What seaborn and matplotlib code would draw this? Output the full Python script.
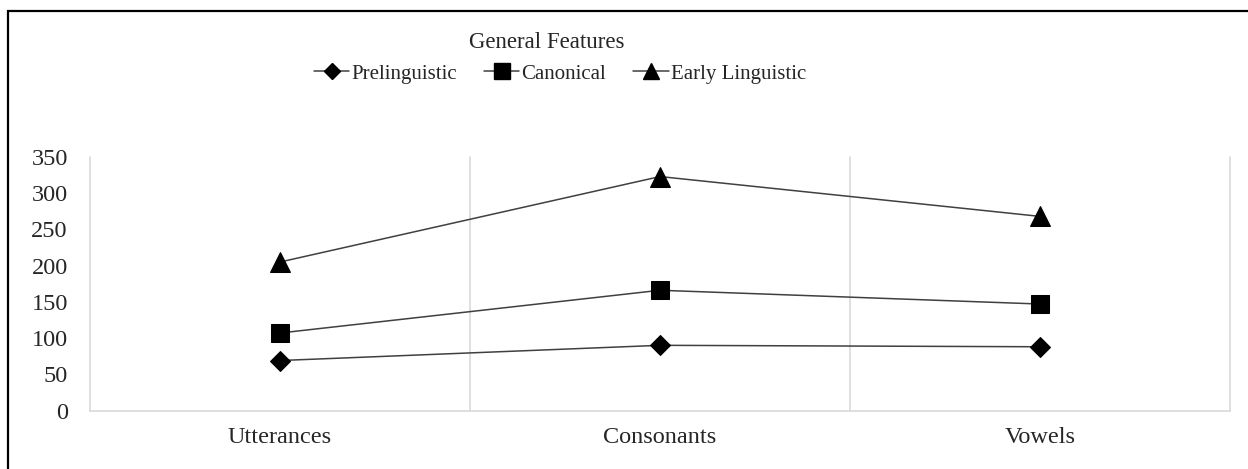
import matplotlib
matplotlib.use("Agg")
import matplotlib.pyplot as plt
import seaborn as sns
import pandas as pd
from matplotlib.lines import Line2D
from matplotlib.patches import Rectangle

categories = ["Utterances", "Consonants", "Vowels"]
prelinguistic = [69, 90, 88]
canonical = [107, 166, 147]
early_linguistic = [205, 323, 268]
series_names = ["Prelinguistic", "Canonical", "Early Linguistic"]
y_ticks = [0, 50, 100, 150, 200, 250, 300, 350]

df = pd.DataFrame({
    "feature": categories * 3,
    "value": prelinguistic + canonical + early_linguistic,
    "stage": [series_names[0]] * 3 + [series_names[1]] * 3 + [series_names[2]] * 3,
})

sns.set_theme(style="white")
plt.rcParams["font.family"] = ["Liberation Serif", "DejaVu Serif"]

W, H = 1248, 469
fig = plt.figure(figsize=(W / 100, H / 100), dpi=100)
ax = fig.add_axes([90 / W, (H - 410.5) / H, (1230 - 90) / W, (410.5 - 157) / H])

markers = {"Prelinguistic": "D", "Canonical": "s", "Early Linguistic": "^"}
msizes = {"Prelinguistic": 10, "Canonical": 13.5, "Early Linguistic": 14}
leg_sizes = {"Prelinguistic": 8.5, "Canonical": 11, "Early Linguistic": 12}
handles = []
for name in series_names:
    sub = df[df["stage"] == name]
    sns.lineplot(data=sub, x="feature", y="value", ax=ax, color="#404040",
                 marker=markers[name], markersize=msizes[name],
                 markerfacecolor="black", markeredgecolor="black",
                 linewidth=1.1, sort=False, legend=False)
    handles.append(Line2D([], [], color="#404040", linewidth=1.1,
                          marker=markers[name], markersize=leg_sizes[name],
                          markerfacecolor="black", markeredgecolor="black"))

ax.set_xlim(-0.5, 2.5)
ax.set_ylim(0, 350)
ax.set_yticks(y_ticks)
ax.set_xlabel("")
ax.set_ylabel("")
for s in ["top", "left", "right"]:
    ax.spines[s].set_visible(False)
ax.spines["bottom"].set_color("#d9d9d9")
ax.spines["bottom"].set_linewidth(1.2)
for xv in [-0.5, 0.5, 1.5, 2.5]:
    ax.axvline(xv, color="#d9d9d9", linewidth=1.2, zorder=0, clip_on=False)

ax.tick_params(axis="y", length=0, pad=16, labelsize=17.5)
ax.tick_params(axis="x", length=0, pad=12, labelsize=17.5)
ax.set_xticks(range(len(categories)))
ax.set_xticklabels(categories)

fig.text(547 / W, 1 - 42 / H, "General Features", ha="center", va="center", fontsize=16.5)
fig.legend(handles, series_names, loc="center", bbox_to_anchor=(560 / W, 1 - 74 / H),
           ncol=3, frameon=False, fontsize=15, handlelength=1.7, handletextpad=0.1,
           columnspacing=1.3)

fig.add_artist(Rectangle((8 / W, -0.1), 1.2, (1 - 11 / H) + 0.1, transform=fig.transFigure,
                         fill=False, edgecolor="black", linewidth=1.6))

fig.savefig("out.png", dpi=100)
